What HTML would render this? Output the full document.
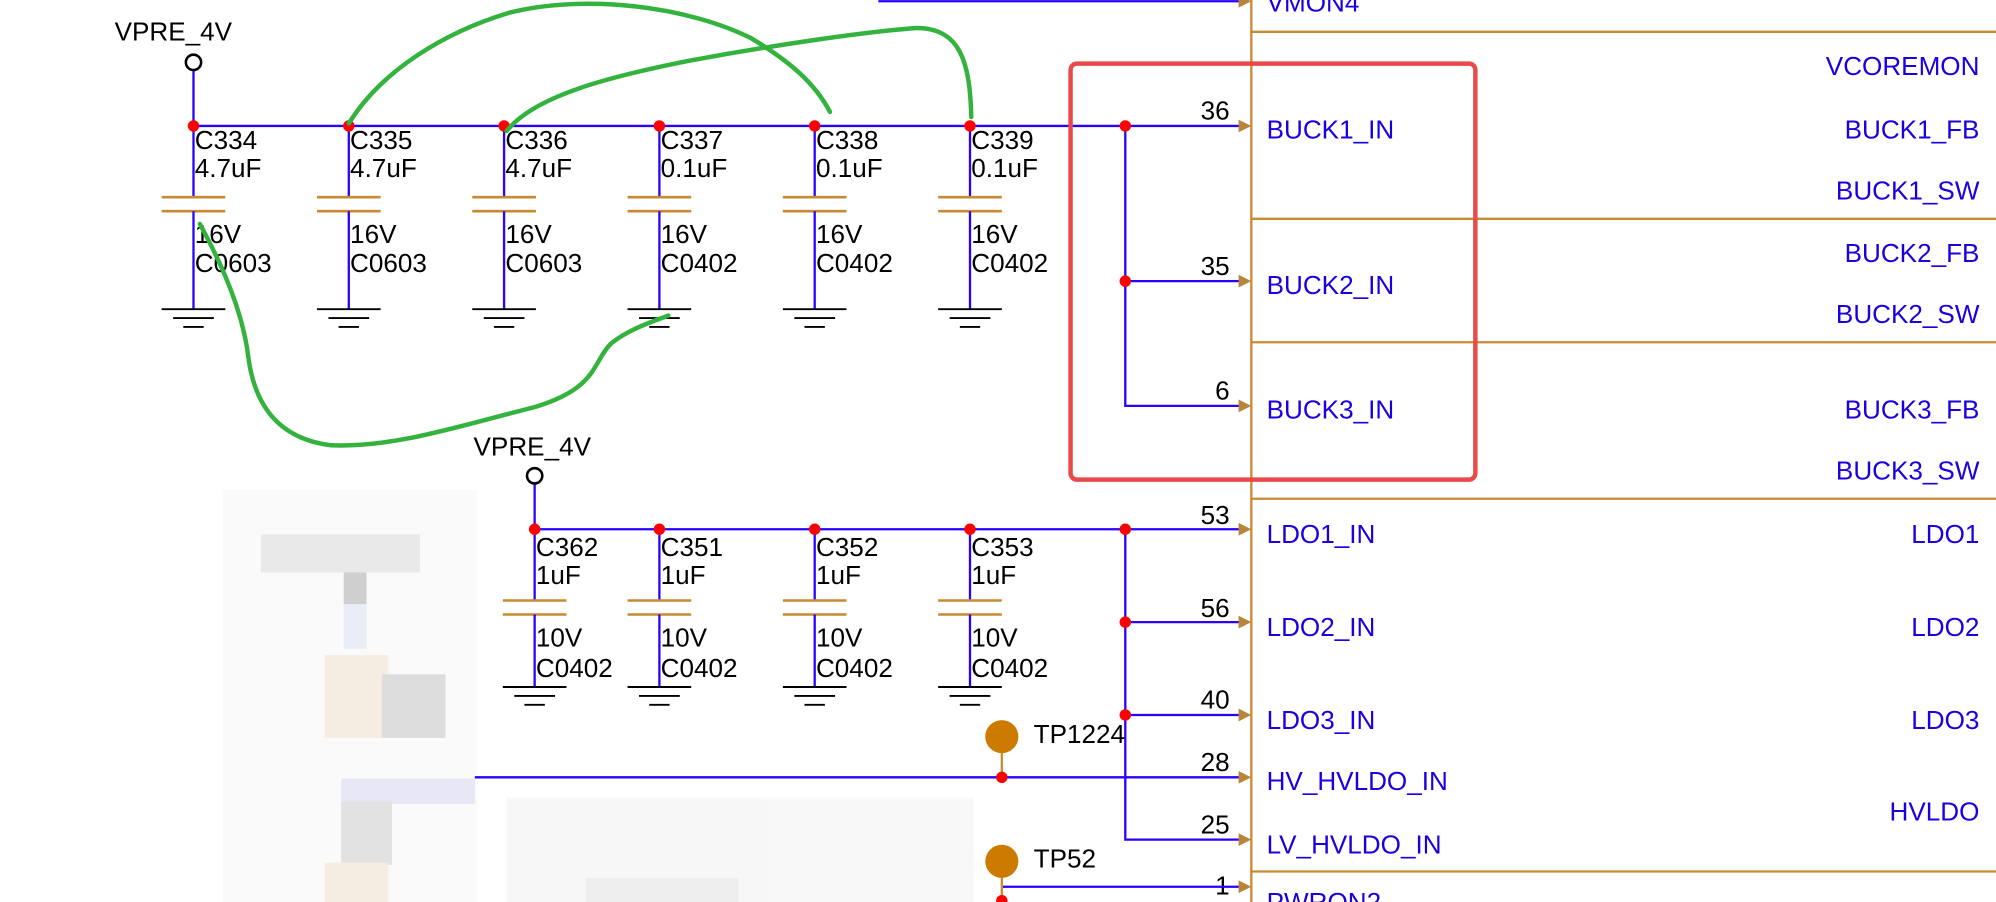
<!DOCTYPE html>
<html><head><meta charset="utf-8"><style>
html,body{margin:0;padding:0;background:#fff;}
svg{display:block;}
text{font-family:"Liberation Sans",Arial,sans-serif;font-size:20.5px;}
.b{fill:#1a00e0;}
.k{fill:#000;}
</style></head><body>
<svg width="1996" height="902" viewBox="0 0 1568 709" preserveAspectRatio="none" xmlns="http://www.w3.org/2000/svg">
<defs>
<g id="gnd" stroke="#000" stroke-width="1.5"><line x1="-25" y1="0" x2="25" y2="0"/><line x1="-16" y1="7" x2="16" y2="7"/><line x1="-8" y1="14" x2="8" y2="14"/></g>
<path id="arr" d="M-10,-5 L0,0 L-10,5 Z" fill="#b8863a"/>
</defs>
<g opacity="0.6">
<rect x="175" y="385" width="200" height="324" fill="#f7f7f7"/>
<rect x="205" y="420" width="125" height="30" fill="#dcdcdc"/>
<rect x="270" y="450" width="18" height="25" fill="#b0b0b0"/>
<rect x="270" y="475" width="18" height="35" fill="#dde0f5"/>
<rect x="255" y="515" width="50" height="65" fill="#f0e0d0"/>
<rect x="300" y="530" width="50" height="50" fill="#c8c8c8"/>
<rect x="268" y="612" width="105" height="20" fill="#d8d8f0"/>
<rect x="268" y="630" width="40" height="50" fill="#d0d0d0"/>
<rect x="255" y="678" width="50" height="31" fill="#f0e0d0"/>
<rect x="398" y="627" width="367" height="82" fill="#f3f3f5"/>
<rect x="460" y="690" width="120" height="19" fill="#e4e4e4"/>
</g>
<line x1="690" y1="1" x2="975" y2="1" stroke="#2a00ff" stroke-width="1.8"/>
<use href="#arr" x="983" y="1"/>
<text x="995" y="9" class="b">VMON4</text>
<g stroke="#c88a30" stroke-width="1.8">
<line x1="983" y1="0" x2="983" y2="709"/>
<line x1="983" y1="25" x2="1568" y2="25"/>
<line x1="983" y1="172" x2="1568" y2="172"/>
<line x1="983" y1="269" x2="1568" y2="269"/>
<line x1="983" y1="392" x2="1568" y2="392"/>
<line x1="983" y1="685" x2="1568" y2="685"/>
</g>
<g class="b" text-anchor="end">
<text x="1555" y="59">VCOREMON</text><text x="1555" y="109">BUCK1_FB</text><text x="1555" y="157">BUCK1_SW</text>
<text x="1555" y="206">BUCK2_FB</text><text x="1555" y="254">BUCK2_SW</text><text x="1555" y="329">BUCK3_FB</text>
<text x="1555" y="377">BUCK3_SW</text><text x="1555" y="427">LDO1</text><text x="1555" y="500">LDO2</text>
<text x="1555" y="573">LDO3</text><text x="1555" y="645">HVLDO</text>
</g>
<g class="b">
<text x="995" y="109">BUCK1_IN</text><text x="995" y="231">BUCK2_IN</text><text x="995" y="329">BUCK3_IN</text>
<text x="995" y="427">LDO1_IN</text><text x="995" y="500">LDO2_IN</text><text x="995" y="573">LDO3_IN</text>
<text x="995" y="621">HV_HVLDO_IN</text><text x="995" y="671">LV_HVLDO_IN</text><text x="995" y="716">PWRON2</text>
</g>
<g class="k" text-anchor="end">
<text x="966" y="94">36</text><text x="966" y="216">35</text><text x="966" y="314">6</text>
<text x="966" y="412">53</text><text x="966" y="485">56</text><text x="966" y="557">40</text>
<text x="966" y="606">28</text><text x="966" y="655">25</text><text x="966" y="703">1</text>
</g>
<g stroke="#2a00ff" stroke-width="1.8" fill="none">
<line x1="152" y1="55" x2="152" y2="99"/>
<line x1="152" y1="99" x2="975" y2="99"/>
<polyline points="884,99 884,319 975,319"/>
<line x1="884" y1="221" x2="975" y2="221"/>
<line x1="420" y1="380" x2="420" y2="416"/>
<line x1="420" y1="416" x2="975" y2="416"/>
<polyline points="884,416 884,660 975,660"/>
<line x1="884" y1="489" x2="975" y2="489"/>
<line x1="884" y1="562" x2="975" y2="562"/>
<line x1="373" y1="611" x2="975" y2="611"/>
<line x1="787" y1="697" x2="975" y2="697"/>
</g>
<g>
<use href="#arr" x="983" y="99"/><use href="#arr" x="983" y="221"/><use href="#arr" x="983" y="319"/>
<use href="#arr" x="983" y="416"/><use href="#arr" x="983" y="489"/><use href="#arr" x="983" y="562"/>
<use href="#arr" x="983" y="611"/><use href="#arr" x="983" y="660"/><use href="#arr" x="983" y="697"/>
</g>
<g transform="translate(152,0)"><line x1="0" y1="99" x2="0" y2="155" stroke="#2a00ff" stroke-width="1.8"/><line x1="-25" y1="155" x2="25" y2="155" stroke="#c88a30" stroke-width="2"/><line x1="-25" y1="166" x2="25" y2="166" stroke="#c88a30" stroke-width="2"/><line x1="0" y1="166" x2="0" y2="243" stroke="#2a00ff" stroke-width="1.8"/><use href="#gnd" y="243"/><text x="1" y="117" class="k">C334</text><text x="1" y="139" class="k">4.7uF</text><text x="1" y="191" class="k">16V</text><text x="1" y="214" class="k">C0603</text></g>
<g transform="translate(274,0)"><line x1="0" y1="99" x2="0" y2="155" stroke="#2a00ff" stroke-width="1.8"/><line x1="-25" y1="155" x2="25" y2="155" stroke="#c88a30" stroke-width="2"/><line x1="-25" y1="166" x2="25" y2="166" stroke="#c88a30" stroke-width="2"/><line x1="0" y1="166" x2="0" y2="243" stroke="#2a00ff" stroke-width="1.8"/><use href="#gnd" y="243"/><text x="1" y="117" class="k">C335</text><text x="1" y="139" class="k">4.7uF</text><text x="1" y="191" class="k">16V</text><text x="1" y="214" class="k">C0603</text></g>
<g transform="translate(396,0)"><line x1="0" y1="99" x2="0" y2="155" stroke="#2a00ff" stroke-width="1.8"/><line x1="-25" y1="155" x2="25" y2="155" stroke="#c88a30" stroke-width="2"/><line x1="-25" y1="166" x2="25" y2="166" stroke="#c88a30" stroke-width="2"/><line x1="0" y1="166" x2="0" y2="243" stroke="#2a00ff" stroke-width="1.8"/><use href="#gnd" y="243"/><text x="1" y="117" class="k">C336</text><text x="1" y="139" class="k">4.7uF</text><text x="1" y="191" class="k">16V</text><text x="1" y="214" class="k">C0603</text></g>
<g transform="translate(518,0)"><line x1="0" y1="99" x2="0" y2="155" stroke="#2a00ff" stroke-width="1.8"/><line x1="-25" y1="155" x2="25" y2="155" stroke="#c88a30" stroke-width="2"/><line x1="-25" y1="166" x2="25" y2="166" stroke="#c88a30" stroke-width="2"/><line x1="0" y1="166" x2="0" y2="243" stroke="#2a00ff" stroke-width="1.8"/><use href="#gnd" y="243"/><text x="1" y="117" class="k">C337</text><text x="1" y="139" class="k">0.1uF</text><text x="1" y="191" class="k">16V</text><text x="1" y="214" class="k">C0402</text></g>
<g transform="translate(640,0)"><line x1="0" y1="99" x2="0" y2="155" stroke="#2a00ff" stroke-width="1.8"/><line x1="-25" y1="155" x2="25" y2="155" stroke="#c88a30" stroke-width="2"/><line x1="-25" y1="166" x2="25" y2="166" stroke="#c88a30" stroke-width="2"/><line x1="0" y1="166" x2="0" y2="243" stroke="#2a00ff" stroke-width="1.8"/><use href="#gnd" y="243"/><text x="1" y="117" class="k">C338</text><text x="1" y="139" class="k">0.1uF</text><text x="1" y="191" class="k">16V</text><text x="1" y="214" class="k">C0402</text></g>
<g transform="translate(762,0)"><line x1="0" y1="99" x2="0" y2="155" stroke="#2a00ff" stroke-width="1.8"/><line x1="-25" y1="155" x2="25" y2="155" stroke="#c88a30" stroke-width="2"/><line x1="-25" y1="166" x2="25" y2="166" stroke="#c88a30" stroke-width="2"/><line x1="0" y1="166" x2="0" y2="243" stroke="#2a00ff" stroke-width="1.8"/><use href="#gnd" y="243"/><text x="1" y="117" class="k">C339</text><text x="1" y="139" class="k">0.1uF</text><text x="1" y="191" class="k">16V</text><text x="1" y="214" class="k">C0402</text></g>
<g transform="translate(420,0)"><line x1="0" y1="416" x2="0" y2="472" stroke="#2a00ff" stroke-width="1.8"/><line x1="-25" y1="472" x2="25" y2="472" stroke="#c88a30" stroke-width="2"/><line x1="-25" y1="483" x2="25" y2="483" stroke="#c88a30" stroke-width="2"/><line x1="0" y1="483" x2="0" y2="540" stroke="#2a00ff" stroke-width="1.8"/><use href="#gnd" y="540"/><text x="1" y="437" class="k">C362</text><text x="1" y="459" class="k">1uF</text><text x="1" y="508" class="k">10V</text><text x="1" y="532" class="k">C0402</text></g>
<g transform="translate(518,0)"><line x1="0" y1="416" x2="0" y2="472" stroke="#2a00ff" stroke-width="1.8"/><line x1="-25" y1="472" x2="25" y2="472" stroke="#c88a30" stroke-width="2"/><line x1="-25" y1="483" x2="25" y2="483" stroke="#c88a30" stroke-width="2"/><line x1="0" y1="483" x2="0" y2="540" stroke="#2a00ff" stroke-width="1.8"/><use href="#gnd" y="540"/><text x="1" y="437" class="k">C351</text><text x="1" y="459" class="k">1uF</text><text x="1" y="508" class="k">10V</text><text x="1" y="532" class="k">C0402</text></g>
<g transform="translate(640,0)"><line x1="0" y1="416" x2="0" y2="472" stroke="#2a00ff" stroke-width="1.8"/><line x1="-25" y1="472" x2="25" y2="472" stroke="#c88a30" stroke-width="2"/><line x1="-25" y1="483" x2="25" y2="483" stroke="#c88a30" stroke-width="2"/><line x1="0" y1="483" x2="0" y2="540" stroke="#2a00ff" stroke-width="1.8"/><use href="#gnd" y="540"/><text x="1" y="437" class="k">C352</text><text x="1" y="459" class="k">1uF</text><text x="1" y="508" class="k">10V</text><text x="1" y="532" class="k">C0402</text></g>
<g transform="translate(762,0)"><line x1="0" y1="416" x2="0" y2="472" stroke="#2a00ff" stroke-width="1.8"/><line x1="-25" y1="472" x2="25" y2="472" stroke="#c88a30" stroke-width="2"/><line x1="-25" y1="483" x2="25" y2="483" stroke="#c88a30" stroke-width="2"/><line x1="0" y1="483" x2="0" y2="540" stroke="#2a00ff" stroke-width="1.8"/><use href="#gnd" y="540"/><text x="1" y="437" class="k">C353</text><text x="1" y="459" class="k">1uF</text><text x="1" y="508" class="k">10V</text><text x="1" y="532" class="k">C0402</text></g>
<text x="90" y="32" class="k">VPRE_4V</text>
<circle cx="152" cy="49" r="6" fill="#fff" stroke="#000" stroke-width="2"/>
<text x="372" y="358" class="k">VPRE_4V</text>
<circle cx="420" cy="374" r="6" fill="#fff" stroke="#000" stroke-width="2"/>
<line x1="787" y1="590" x2="787" y2="611" stroke="#c88a30" stroke-width="1.8"/>
<circle cx="787" cy="579" r="13" fill="#cc7a00"/>
<text x="812" y="584" class="k">TP1224</text>
<line x1="787" y1="688" x2="787" y2="709" stroke="#c88a30" stroke-width="1.8"/>
<circle cx="787" cy="677" r="13" fill="#cc7a00"/>
<text x="812" y="682" class="k">TP52</text>
<g fill="#ff0000">
<circle cx="152" cy="99" r="4.5"/><circle cx="274" cy="99" r="4.5"/><circle cx="396" cy="99" r="4.5"/>
<circle cx="518" cy="99" r="4.5"/><circle cx="640" cy="99" r="4.5"/><circle cx="762" cy="99" r="4.5"/>
<circle cx="884" cy="99" r="4.5"/><circle cx="884" cy="221" r="4.5"/>
<circle cx="420" cy="416" r="4.5"/><circle cx="518" cy="416" r="4.5"/><circle cx="640" cy="416" r="4.5"/>
<circle cx="762" cy="416" r="4.5"/><circle cx="884" cy="416" r="4.5"/><circle cx="884" cy="489" r="4.5"/>
<circle cx="884" cy="562" r="4.5"/><circle cx="787" cy="611" r="4.5"/><circle cx="787" cy="708" r="4.5"/>
</g>
<rect x="841" y="50" width="318" height="327" rx="5" fill="none" stroke="#e84a4a" stroke-width="3.5"/>
<g stroke="#33b33d" stroke-width="3.5" fill="none" stroke-linecap="round">
<path d="M274,97 C300,55 350,25 400,10 C460,-5 540,5 590,30 C620,48 640,65 652,88"/>
<path d="M398,103 C420,75 480,60 540,48 C610,35 680,25 720,22 C755,22 762,50 763,92"/>
<path d="M157,176 C170,200 190,240 195,280 C200,320 220,345 260,350 C310,352 360,335 420,320 C470,305 465,285 480,270 C495,258 515,252 525,248"/>
</g>
</svg>
</body></html>
